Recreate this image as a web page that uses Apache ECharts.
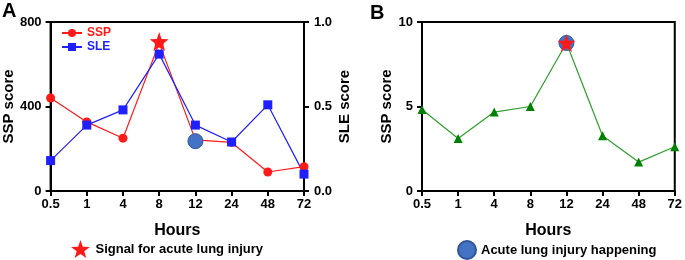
<!DOCTYPE html>
<html>
<head>
    <meta charset="utf-8">
    <title>SSP / SLE</title>
    <script src="https://cdn.jsdelivr.net/npm/echarts@6/dist/echarts.min.js"></script>
    <style>
        body { margin: 0; background: #fff; }
        #chart { width: 685px; height: 260px; }
    </style>
</head>
<body>
    <div id="chart"></div>
    <script>
        // 数据
        var hours = ['0.5', '1', '4', '8', '12', '24', '48', '72'];
        var sspA = [440, 327, 250, 700, 242, 230, 90, 115];     // 左轴 SSP score
        var sleA = [0.18, 0.39, 0.48, 0.81, 0.39, 0.29, 0.51, 0.10]; // 右轴 SLE score
        var sspB = [4.82, 3.11, 4.67, 5.0, 8.76, 3.27, 1.71, 2.62];
        var signalIdxA = 3;   // 星标 (8 h)
        var injuryIdxA = 4;   // 圆点 (12 h)
        var markIdxB = 4;     // B 图 12 h

        var starPath = 'path://M50 0L61.76 33.82L97.55 34.55L69.02 56.18L79.39 90.45L50 70L20.61 90.45L30.98 56.18L2.45 34.55L38.24 33.82Z';
        var font = 'Liberation Sans, Arial, sans-serif';
        var red = '#ff1a1a', blue = '#1f1fff', circleBlue = '#4472c4';

        var chart = echarts.init(document.getElementById('chart'));

        function xAx(grid) {
            return {
                type: 'category', gridIndex: grid, data: hours, boundaryGap: false,
                name: 'Hours', nameLocation: 'middle', nameGap: 32,
                nameTextStyle: { fontFamily: font, fontWeight: 'bold', fontSize: 16, color: '#000' },
                axisLine: { lineStyle: { color: '#000', width: 2 } },
                axisTick: { length: 5, lineStyle: { color: '#000', width: 2 } },
                axisLabel: { fontFamily: font, fontWeight: 'bold', fontSize: 13, color: '#000', margin: 7 },
                splitLine: { show: false }
            };
        }
        function yAx(grid, opts) {
            var a = {
                type: 'value', gridIndex: grid,
                nameLocation: 'middle',
                nameTextStyle: { fontFamily: font, fontWeight: 'bold', fontSize: 15, color: '#000' },
                axisLine: { show: true, lineStyle: { color: '#000', width: 2 } },
                axisTick: { show: true, length: 5, lineStyle: { color: '#000', width: 2 } },
                axisLabel: { fontFamily: font, fontWeight: 'bold', fontSize: 13, color: '#000', margin: 9 },
                splitLine: { show: false }
            };
            return Object.assign(a, opts);
        }

        var option = {
            animation: false,
            textStyle: { fontFamily: font },
            title: [
                { text: 'A', left: 2, top: 1, padding: 0, textStyle: { fontFamily: font, fontWeight: 'bold', fontSize: 20, color: '#000' } },
                { text: 'B', left: 370, top: 3, padding: 0, textStyle: { fontFamily: font, fontWeight: 'bold', fontSize: 20, color: '#000' } }
            ],
            grid: [
                { left: 49, right: 381, top: 22, bottom: 69, show: true, borderColor: '#000', borderWidth: 2 },
                { left: 422, right: 7, top: 22, bottom: 69, show: true, borderColor: '#000', borderWidth: 2 }
            ],
            legend: [
                {
                    left: 56, top: 22, orient: 'vertical', itemGap: 2, itemWidth: 20, itemHeight: 10,
                    textStyle: { fontFamily: font, fontWeight: 'bold', fontSize: 12 },
                    data: [
                        { name: 'SSP', textStyle: { color: red } },
                        { name: 'SLE', textStyle: { color: blue } }
                    ]
                },
                {
                    left: 66, top: 235, itemWidth: 20, itemHeight: 18,
                    textStyle: { fontFamily: font, fontWeight: 'bold', fontSize: 13, color: '#000' },
                    data: ['Signal for acute lung injury']
                },
                {
                    left: 452, top: 235, itemWidth: 18, itemHeight: 18,
                    textStyle: { fontFamily: font, fontWeight: 'bold', fontSize: 13, color: '#000' },
                    data: ['Acute lung injury happening']
                }
            ],
            xAxis: [xAx(0), xAx(1)],
            yAxis: [
                yAx(0, { min: 0, max: 800, interval: 400, name: 'SSP score', nameGap: 28 }),
                yAx(0, { min: 0, max: 1, interval: 0.5, name: 'SLE score', nameGap: 33, position: 'right',
                    axisLabel: { fontFamily: font, fontWeight: 'bold', fontSize: 13, color: '#000', margin: 10,
                        formatter: function (v) { return v.toFixed(1); } } }),
                yAx(1, { min: 0, max: 10, interval: 5, name: 'SSP score', nameGap: 28 })
            ],
            series: [
                {
                    name: 'SSP', type: 'line', xAxisIndex: 0, yAxisIndex: 0, data: sspA,
                    symbol: 'circle', symbolSize: 9, color: red,
                    lineStyle: { color: red, width: 1.2 }, itemStyle: { color: red }
                },
                {
                    name: 'SLE', type: 'line', xAxisIndex: 0, yAxisIndex: 1, data: sleA,
                    symbol: 'rect', symbolSize: 9, color: blue,
                    lineStyle: { color: blue, width: 1.2 }, itemStyle: { color: blue }
                },
                {
                    name: 'Acute lung injury happening', type: 'scatter', xAxisIndex: 0, yAxisIndex: 0,
                    data: [[hours[injuryIdxA], sspA[injuryIdxA] - 6]], symbol: 'circle', symbolSize: 15,
                    itemStyle: { color: circleBlue, borderColor: '#2f5597', borderWidth: 1, opacity: 1 }, z: 5
                },
                {
                    name: 'Signal for acute lung injury', type: 'scatter', xAxisIndex: 0, yAxisIndex: 0,
                    data: [[hours[signalIdxA], sspA[signalIdxA] + 8]], symbol: starPath, symbolSize: 19,
                    itemStyle: { color: red, opacity: 1 }, z: 6
                },
                {
                    name: 'SSP B', type: 'line', xAxisIndex: 1, yAxisIndex: 2, data: sspB,
                    symbol: 'triangle', symbolSize: 9,
                    lineStyle: { color: '#2e9e2e', width: 1.2 }, itemStyle: { color: '#008000' }
                },
                {
                    name: 'Acute lung injury happening', type: 'scatter', xAxisIndex: 1, yAxisIndex: 2,
                    data: [[hours[markIdxB], sspB[markIdxB]]], symbol: 'circle', symbolSize: 15,
                    itemStyle: { color: circleBlue, borderColor: '#2f5597', borderWidth: 1, opacity: 1 }, z: 5
                },
                {
                    name: 'Signal for acute lung injury', type: 'scatter', xAxisIndex: 1, yAxisIndex: 2,
                    data: [[hours[markIdxB], sspB[markIdxB]]], symbol: starPath, symbolSize: 18,
                    itemStyle: { color: red, opacity: 1 }, z: 6
                }
            ]
        };
        chart.setOption(option);
    </script>
</body>
</html>
